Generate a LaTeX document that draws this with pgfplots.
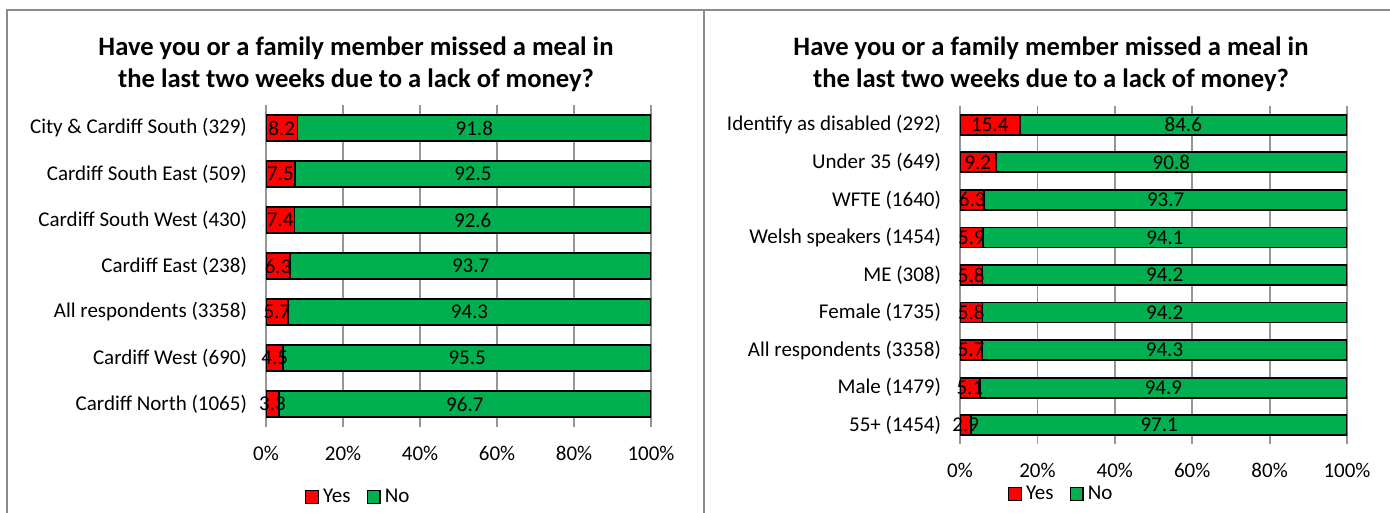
\documentclass[border=0pt]{standalone}
\usepackage{fontspec}
\setmainfont{Carlito}
\usepackage{pgfplots}
\usepackage{pgfplotstable}
\pgfplotsset{compat=1.18}

\definecolor{yesred}{RGB}{255,0,0}
\definecolor{nogreen}{RGB}{0,176,80}
\definecolor{gridgray}{RGB}{150,150,150}
\definecolor{framegray}{RGB}{140,140,140}

% area breakdown (top row first)
\pgfplotstableread{
id yes no
0 8.2 91.8
1 7.5 92.5
2 7.4 92.6
3 6.3 93.7
4 5.7 94.3
5 4.5 95.5
6 3.3 96.7
}\areatable

% group breakdown (top row first)
\pgfplotstableread{
id yes no
0 15.4 84.6
1 9.2 90.8
2 6.3 93.7
3 5.9 94.1
4 5.8 94.2
5 5.8 94.2
6 5.7 94.3
7 5.1 94.9
8 2.9 97.1
}\grouptable

\newcommand{\lblfont}{\fontsize{10.5}{12.6}\selectfont}

\pgfplotsset{
  mealbase/.style={
    scale only axis, anchor=south west,
    xmin=0, xmax=100, ymin=-0.5, y dir=reverse,
    /pgf/number format/assume math mode=true,
  },
  mealbars/.style={
    mealbase, xbar stacked,
    axis line style={draw=none},
    xtick={0,20,40,60,80,100},
    xticklabels={0\%,20\%,40\%,60\%,80\%,100\%},
    major tick length=0pt,
    xmajorgrids, grid style={gridgray, line width=0.9pt},
    tick label style={font=\lblfont},
    xticklabel style={yshift=-6pt},
    yticklabel style={xshift=-6pt},
    legend columns=2,
    legend style={draw=none, fill=none, font=\lblfont, inner sep=0pt,
      /tikz/every even column/.append style={column sep=6pt}},
    legend image code/.code={\draw[#1, line width=0.7pt] (0pt,-3.2pt) rectangle (6.4pt,3.2pt);},
  },
  meallabels/.style={
    mealbase, hide axis, clip=false,
  },
  seg/.style={draw=black, line width=0.9pt, fill=#1},
  vals/.style={draw=none, mark=none, nodes near coords, point meta=explicit symbolic,
    every node near coord/.style={anchor=center, font=\lblfont, text=black, inner sep=0pt}},
}

\begin{document}
\begin{tikzpicture}
\path[use as bounding box] (0,0) rectangle (695pt,-256.5pt);

% panel frame
\draw[framegray, line width=1pt] (3.5pt,-256.5pt) -- (3.5pt,-5pt) -- (695pt,-5pt);
\draw[framegray, line width=1pt] (352pt,-5pt) -- (352pt,-256.5pt);

% titles
\node[align=center, font=\bfseries\fontsize{13.3}{16}\selectfont] at (178pt,-32pt)
  {Have you or a family member missed a meal in\\the last two weeks due to a lack of money?};
\node[align=center, font=\bfseries\fontsize{13.3}{16}\selectfont] at (525.5pt,-32pt)
  {Have you or a family member missed a meal in\\the last two weeks due to a lack of money?};

% left: areas
\begin{axis}[mealbars, at={(133pt,-213.5pt)}, width=192.5pt, height=161pt,
  ymax=6.5, bar width=13pt,
  ytick={0,...,6},
  yticklabels={City \& Cardiff South (329),Cardiff South East (509),Cardiff South West (430),
    Cardiff East (238),All respondents (3358),Cardiff West (690),Cardiff North (1065)},
  legend style={at={(0.242,-0.217)}, anchor=center},
]
\addplot[seg=yesred] table[x=yes, y=id] {\areatable};
\addlegendentry{Yes}
\addplot[seg=nogreen] table[x=no, y=id] {\areatable};
\addlegendentry{No}
\end{axis}
\begin{axis}[meallabels, at={(133pt,-213.5pt)}, width=192.5pt, height=161pt, ymax=6.5]
\addplot[vals] table[x expr=\thisrow{yes}/2, y=id, meta=yes] {\areatable};
\addplot[vals] table[x expr=\thisrow{yes}+\thisrow{no}/2, y=id, meta=no] {\areatable};
\end{axis}

% right: groups
\begin{axis}[mealbars, at={(480pt,-222pt)}, width=193.5pt, height=169pt,
  ymax=8.5, bar width=10pt,
  ytick={0,...,8},
  yticklabels={Identify as disabled (292),Under 35 (649),WFTE (1640),Welsh speakers (1454),
    ME (308),Female (1735),All respondents (3358),Male (1479),55+ (1454)},
  legend style={at={(0.264,-0.148)}, anchor=center},
]
\addplot[seg=yesred] table[x=yes, y=id] {\grouptable};
\addlegendentry{Yes}
\addplot[seg=nogreen] table[x=no, y=id] {\grouptable};
\addlegendentry{No}
\end{axis}
\begin{axis}[meallabels, at={(480pt,-222pt)}, width=193.5pt, height=169pt, ymax=8.5]
\addplot[vals] table[x expr=\thisrow{yes}/2, y=id, meta=yes] {\grouptable};
\addplot[vals] table[x expr=\thisrow{yes}+\thisrow{no}/2, y=id, meta=no] {\grouptable};
\end{axis}
\end{tikzpicture}
\end{document}
